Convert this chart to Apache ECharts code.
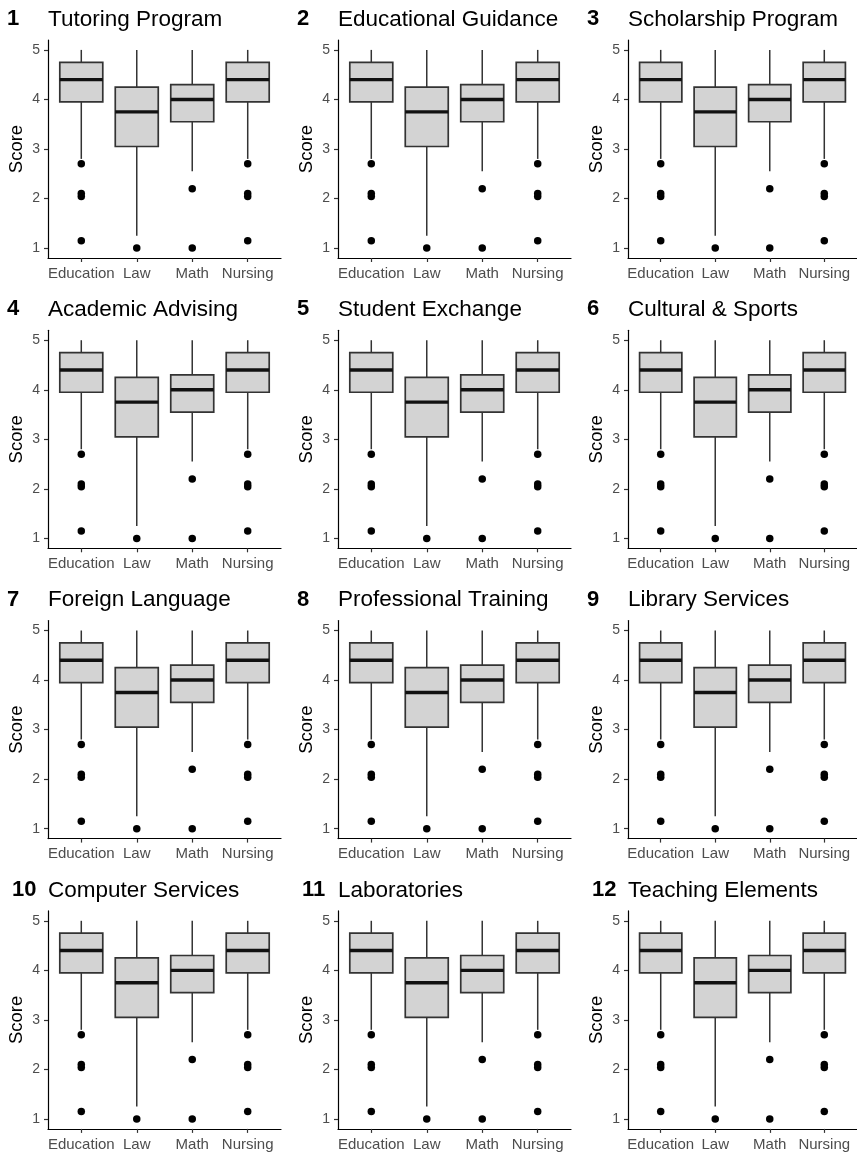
<!DOCTYPE html>
<html>
<head>
<meta charset="utf-8">
<script src="https://cdn.jsdelivr.net/npm/echarts@6/dist/echarts.min.js"></script>
<style>
  html, body { margin: 0; padding: 0; background: #fff; }
  #chart { width: 857px; height: 1154px; }
</style>
</head>
<body>
<div id="chart"></div>
<script>
// Service areas, one panel each
const services = [
  'Tutoring Program', 'Educational Guidance', 'Scholarship Program',
  'Academic Advising', 'Student Exchange', 'Cultural & Sports',
  'Foreign Language', 'Professional Training', 'Library Services',
  'Computer Services', 'Laboratories', 'Teaching Elements'
];

// Faculties on the x axis
const faculties = ['Education', 'Law', 'Math', 'Nursing'];

// Box statistics per faculty: [lower whisker, Q1, median, Q3, upper whisker]
const statsEducation = [2.8, 3.95, 4.4, 4.75, 5];
const statsLaw       = [1.25, 3.05, 3.75, 4.25, 5];
const statsMath      = [2.55, 3.55, 4.0, 4.3, 5];
const statsNursing   = [2.8, 3.95, 4.4, 4.75, 5];

// Outlying scores per faculty
const outEducation = [2.7, 2.1, 2.04, 1.15];
const outLaw       = [1.0];
const outMath      = [2.2, 1.0];
const outNursing   = [2.7, 2.1, 2.04, 1.15];

// Score axis ticks
const scoreTicks = [1, 2, 3, 4, 5];

const boxStats = [statsEducation, statsLaw, statsMath, statsNursing];
const outliers = [outEducation, outLaw, outMath, outNursing];

// panel geometry
const COL_X = [48, 338, 628];
const ROW_Y0 = 40, ROW_STEP = 290.3;
const PLOT_W = 233, PLOT_H = 218;
const BOX_WIDTH = 0.775;

const FONT = '"Liberation Sans", Arial, sans-serif';

function renderBox(params, api) {
  const x = api.value(0);
  const lo = api.coord([x, api.value(1)]);
  const q1 = api.coord([x, api.value(2)]);
  const med = api.coord([x, api.value(3)]);
  const q3 = api.coord([x, api.value(4)]);
  const hi = api.coord([x, api.value(5)]);
  const half = api.size([BOX_WIDTH, 0])[0] / 2;
  const lineStyle = { stroke: '#333333', lineWidth: 1.5 };
  return {
    type: 'group',
    children: [
      { type: 'line', shape: { x1: hi[0], y1: hi[1], x2: q3[0], y2: q3[1] }, style: lineStyle },
      { type: 'line', shape: { x1: q1[0], y1: q1[1], x2: lo[0], y2: lo[1] }, style: lineStyle },
      {
        type: 'rect',
        shape: { x: q3[0] - half, y: q3[1], width: 2 * half, height: q1[1] - q3[1] },
        style: { fill: '#D3D3D3', stroke: '#333333', lineWidth: 1.7 }
      },
      {
        type: 'line',
        shape: { x1: med[0] - half, y1: med[1], x2: med[0] + half, y2: med[1] },
        style: { stroke: '#111111', lineWidth: 3.4 }
      }
    ]
  };
}

const boxData = boxStats.map((s, i) => [i + 1].concat(s));
const outlierData = [];
outliers.forEach((list, i) => list.forEach(v => outlierData.push([i + 1, v])));

const grids = [], xAxes = [], yAxes = [], series = [], titles = [];

services.forEach((name, k) => {
  const row = Math.floor(k / 3), col = k % 3;
  const left = COL_X[col];
  const top = ROW_Y0 + row * ROW_STEP;
  grids.push({ left: left, top: top, width: PLOT_W, height: PLOT_H, containLabel: false });

  xAxes.push({
    gridIndex: k, type: 'value', min: 0.4, max: 4.6,
    axisLine: { show: true, onZero: false, lineStyle: { color: '#000', width: 1.2 } },
    axisTick: { show: true, customValues: [1, 2, 3, 4], length: 4, lineStyle: { color: '#333', width: 1.2 } },
    axisLabel: {
      customValues: [1, 2, 3, 4], margin: 8,
      formatter: v => faculties[Math.round(v) - 1] || '',
      color: '#4D4D4D', fontSize: 15, fontFamily: FONT
    },
    splitLine: { show: false }
  });

  yAxes.push({
    gridIndex: k, type: 'value', min: 0.8, max: 5.2,
    name: 'Score', nameLocation: 'middle', nameGap: 22,
    nameTextStyle: { color: '#000', fontSize: 18.5, fontFamily: FONT },
    axisLine: { show: true, onZero: false, lineStyle: { color: '#000', width: 1.2 } },
    axisTick: { show: true, customValues: scoreTicks, length: 4, lineStyle: { color: '#333', width: 1.2 } },
    axisLabel: {
      customValues: scoreTicks, margin: 8,
      color: '#4D4D4D', fontSize: 14, fontFamily: FONT
    },
    splitLine: { show: false }
  });

  series.push({
    type: 'custom', xAxisIndex: k, yAxisIndex: k,
    renderItem: renderBox,
    encode: { x: 0, y: [1, 2, 3, 4, 5] },
    data: boxData, silent: true
  });
  series.push({
    type: 'scatter', xAxisIndex: k, yAxisIndex: k,
    data: outlierData, symbol: 'circle', symbolSize: 7.5,
    itemStyle: { color: '#000', opacity: 1 }, silent: true, z: 5
  });

  const titleTop = 8 + row * ROW_STEP;
  titles.push({
    text: String(k + 1),
    left: (row === 3 ? 12 : 7) + col * 290, top: titleTop, padding: 0,
    textStyle: { color: '#000', fontSize: 22, fontWeight: 'bold', fontFamily: FONT }
  });
  titles.push({
    text: name,
    left: left, top: titleTop, padding: 0,
    textStyle: { color: '#000', fontSize: 22.5, fontWeight: 'normal', fontFamily: FONT }
  });
});

const chart = echarts.init(document.getElementById('chart'), null, { renderer: 'canvas' });
chart.setOption({
  backgroundColor: '#fff',
  animation: false,
  title: titles,
  grid: grids,
  xAxis: xAxes,
  yAxis: yAxes,
  series: series
});
</script>
</body>
</html>
